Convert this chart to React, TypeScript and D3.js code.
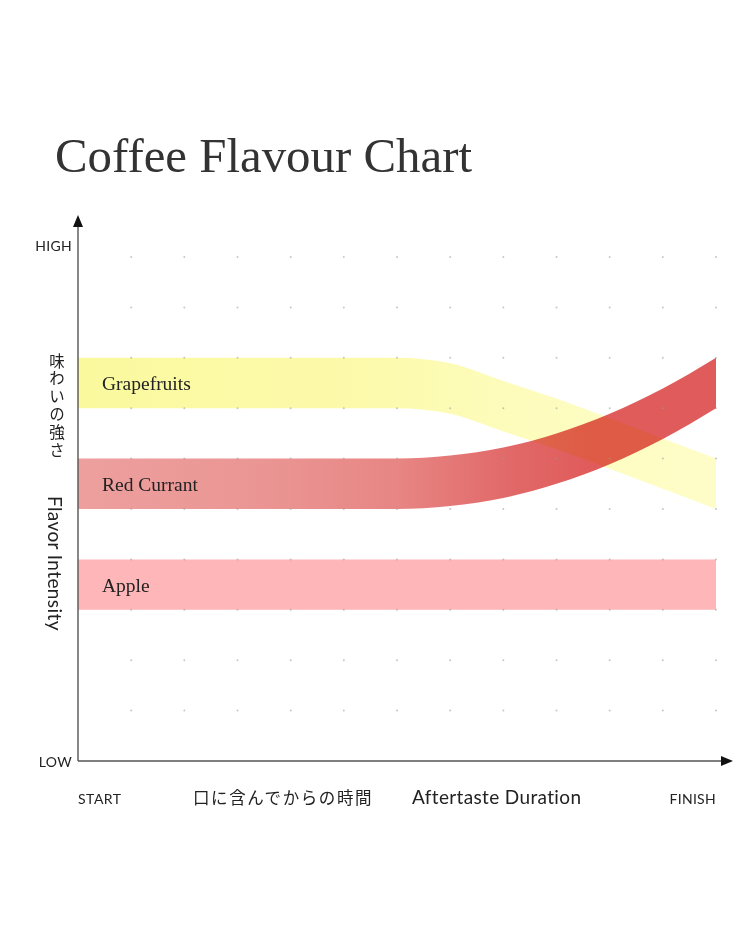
import React from "react";
import * as d3 from "d3";

// time steps along the x axis (START = 0, FINISH = 12)
const timeSteps = [0, 1, 2, 3, 4, 5, 6, 7, 8, 9, 10, 11, 12];
const intensityLevels = [1, 2, 3, 4, 5, 6, 7, 8, 9, 10];

// centre of each flavour band (intensity, 0 = LOW, 10 = HIGH)
const grapefruits = [7.5, 7.5, 7.5, 7.5, 7.5, 7.5, 7.5, 7.39, 7.04, 6.69, 6.3, 5.9, 5.5];
const redCurrant = [5.5, 5.5, 5.5, 5.5, 5.5, 5.5, 5.5, 5.56, 5.72, 6.0, 6.39, 6.89, 7.5];
const apple = [3.5, 3.5, 3.5, 3.5, 3.5, 3.5, 3.5, 3.5, 3.5, 3.5, 3.5, 3.5, 3.5];

const flavourNames = ["Apple", "Grapefruits", "Red Currant"];
const flavourSeries = [apple, grapefruits, redCurrant];

const bandWidth = 1; // thickness of a band in intensity units

const sansFont = "Lato, 'Noto Sans', sans-serif";
const jpFont = "'Noto Sans CJK JP', sans-serif";
const serifFont = "'Liberation Serif', 'DejaVu Serif', serif";

export default function App() {
  const width = 750;
  const height = 938;
  const x = d3.scaleLinear().domain([0, 12]).range([78, 716]);
  const y = d3.scaleLinear().domain([0, 10]).range([761, 257]);

  const area = d3
    .area<number>()
    .x((d, i) => x(timeSteps[i]))
    .y0((d) => y(d - bandWidth / 2))
    .y1((d) => y(d + bandWidth / 2))
    .curve(d3.curveMonotoneX);

  const fills = ["#feb6b9", "url(#gradGrape)", "url(#gradRed)"];
  const blends: any[] = ["normal", "normal", "multiply"];

  const axisX0 = x(0);
  const axisY0 = y(0);

  return (
    <svg
      width={width}
      height={height}
      style={{position: "absolute", left: 0, top: 0, background: "#fff"}}
    >
      <defs>
        <linearGradient id="gradGrape" gradientUnits="userSpaceOnUse" x1={x(0)} x2={x(12)} y1={0} y2={0}>
          <stop offset="0" stopColor="#fbf99e" />
          <stop offset="0.45" stopColor="#fcfaab" />
          <stop offset="0.7" stopColor="#fdfcbd" />
          <stop offset="1" stopColor="#fefdc8" />
        </linearGradient>
        <linearGradient id="gradRed" gradientUnits="userSpaceOnUse" x1={x(0)} x2={x(12)} y1={0} y2={0}>
          <stop offset="0" stopColor="#eda09e" />
          <stop offset="0.3" stopColor="#ea9593" />
          <stop offset="0.5" stopColor="#e78684" />
          <stop offset="0.68" stopColor="#e16868" />
          <stop offset="0.8" stopColor="#e05c5b" />
          <stop offset="1" stopColor="#e05c5c" />
        </linearGradient>
      </defs>

      {/* title */}
      <text x={55} y={172} fontFamily={serifFont} fontSize={48} fill="#333" textLength={417} lengthAdjust="spacingAndGlyphs">
        Coffee Flavour Chart
      </text>

      {/* flavour bands */}
      {flavourSeries.map((s, i) => (
        <path key={flavourNames[i]} d={area(s) || ""} fill={fills[i]} style={{mixBlendMode: blends[i]}} />
      ))}

      {/* dot grid */}
      {timeSteps.slice(1).map((t) =>
        intensityLevels.map((l) => (
          <circle key={t + "-" + l} cx={x(t)} cy={y(l)} r={1} fill="#999" opacity={0.55} />
        ))
      )}

      {/* band labels */}
      {flavourSeries.map((s, i) => (
        <text key={"lbl" + i} x={102} y={y(s[0]) + 7} fontFamily={serifFont} fontSize={19.5} fill="#222">
          {flavourNames[i]}
        </text>
      ))}

      {/* axes */}
      <line x1={axisX0} x2={axisX0} y1={axisY0} y2={224} stroke="#555" strokeWidth={1.4} />
      <path d={`M${axisX0},215 L${axisX0 - 5},227 L${axisX0 + 5},227 Z`} fill="#111" />
      <line x1={axisX0} x2={724} y1={axisY0} y2={axisY0} stroke="#555" strokeWidth={1.4} />
      <path d={`M733,${axisY0} L721,${axisY0 - 5} L721,${axisY0 + 5} Z`} fill="#111" />

      {/* axis end labels */}
      <text x={72} y={251} textAnchor="end" fontFamily={sansFont} fontSize={14} fill="#222" letterSpacing={0.3}>HIGH</text>
      <text x={72} y={767} textAnchor="end" fontFamily={sansFont} fontSize={14} fill="#222" letterSpacing={0.3}>LOW</text>
      <text x={78} y={804} fontFamily={sansFont} fontSize={14} fill="#222" letterSpacing={0.5}>START</text>
      <text x={716} y={804} textAnchor="end" fontFamily={sansFont} fontSize={14} fill="#222" letterSpacing={0.3}>FINISH</text>

      {/* x axis title */}
      <text x={193} y={804} fontFamily={jpFont} fontSize={16.5} fill="#222" letterSpacing={1.6}>
        口に含んでからの時間
      </text>
      <text x={412} y={804} fontFamily={sansFont} fontSize={19} fill="#222" letterSpacing={0.35}>
        Aftertaste Duration
      </text>

      {/* y axis title */}
      <text x={57} y={353} fontFamily={jpFont} fontSize={15.5} fill="#222" letterSpacing={2.3} style={{writingMode: "vertical-rl"}}>
        味わいの強さ
      </text>
      <text transform="translate(48,496) rotate(90)" fontFamily={sansFont} fontSize={19} fill="#222" letterSpacing={0.4}>
        Flavor Intensity
      </text>
    </svg>
  );
}
